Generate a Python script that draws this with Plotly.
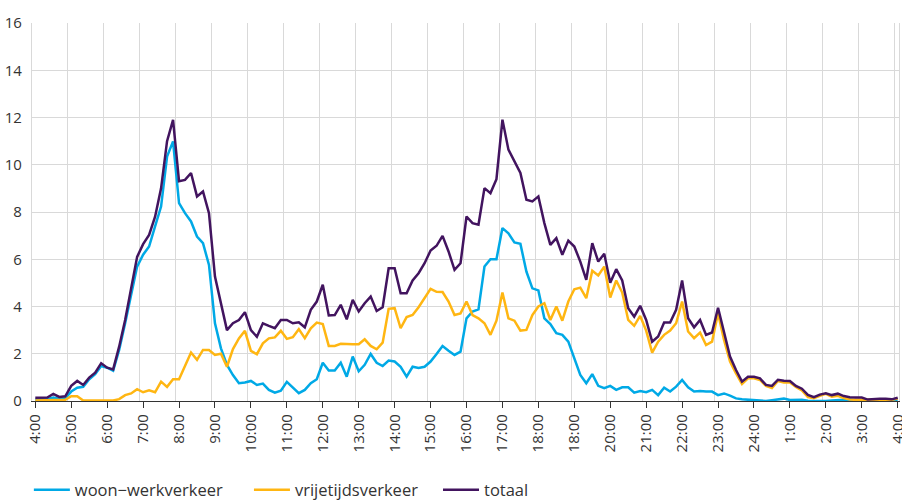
import plotly.graph_objects as go

# tijdas: elke 10 minuten van 4:00 tot 4:00 de volgende dag
UUR_LABELS = ["4:00", "5:00", "6:00", "7:00", "8:00", "9:00", "10:00", "11:00",
              "12:00", "13:00", "14:00", "15:00", "16:00", "17:00", "18:00",
              "18:00", "20:00", "21:00", "22:00", "23:00", "24:00", "1:00",
              "2:00", "3:00", "4:00"]

woon_werk = [
    0.05, 0.06, 0.08, 0.15, 0.10, 0.12, 0.40, 0.56, 0.60, 0.92,
    1.14, 1.48, 1.41, 1.28, 2.16, 3.29, 4.56, 5.69, 6.19, 6.54,
    7.39, 8.23, 10.35, 10.99, 8.38, 7.95, 7.60, 6.96, 6.68, 5.76,
    3.29, 2.23, 1.53, 1.10, 0.75, 0.78, 0.85, 0.68, 0.74, 0.47,
    0.35, 0.44, 0.81, 0.58, 0.33, 0.47, 0.75, 0.92, 1.62, 1.29,
    1.29, 1.62, 1.03, 1.88, 1.26, 1.53, 1.99, 1.62, 1.48, 1.71,
    1.67, 1.45, 1.03, 1.45, 1.40, 1.45, 1.67, 1.99, 2.33, 2.13,
    1.95, 2.09, 3.50, 3.79, 3.88, 5.69, 6.00, 6.00, 7.32, 7.10,
    6.71, 6.65, 5.48, 4.77, 4.68, 3.50, 3.26, 2.87, 2.80, 2.51,
    1.77, 1.10, 0.75, 1.14, 0.64, 0.54, 0.64, 0.47, 0.58, 0.58,
    0.35, 0.42, 0.37, 0.47, 0.25, 0.56, 0.40, 0.61, 0.89, 0.58,
    0.40, 0.42, 0.40, 0.40, 0.25, 0.32, 0.23, 0.11, 0.07, 0.05,
    0.03, 0.02, 0.00, 0.03, 0.05, 0.10, 0.04, 0.05, 0.05, 0.01,
    0.00, 0.00, 0.00, 0.02, 0.05, 0.05, 0.06, 0.01, 0.00, 0.00,
    0.02, 0.03, 0.02, 0.00, 0.02,
]

vrije_tijd = [
    0.02, 0.02, 0.05, 0.05, 0.05, 0.05, 0.20, 0.20, 0.02, 0.02,
    0.02, 0.02, 0.00, 0.02, 0.08, 0.25, 0.32, 0.50, 0.37, 0.45,
    0.37, 0.82, 0.60, 0.92, 0.92, 1.45, 2.05, 1.74, 2.16, 2.16,
    1.95, 2.00, 1.45, 2.20, 2.65, 2.97, 2.12, 1.98, 2.44, 2.65,
    2.69, 2.97, 2.63, 2.70, 3.04, 2.66, 3.08, 3.32, 3.26, 2.33,
    2.33, 2.42, 2.40, 2.40, 2.40, 2.61, 2.33, 2.19, 2.47, 3.90,
    3.93, 3.08, 3.55, 3.64, 3.97, 4.35, 4.75, 4.62, 4.61, 4.21,
    3.64, 3.71, 4.21, 3.64, 3.50, 3.29, 2.80, 3.40, 4.59, 3.50,
    3.40, 2.98, 3.01, 3.64, 4.00, 4.14, 3.43, 4.00, 3.40, 4.21,
    4.73, 4.80, 4.35, 5.51, 5.31, 5.69, 4.38, 5.10, 4.59, 3.43,
    3.18, 3.60, 2.98, 2.05, 2.51, 2.80, 2.98, 3.29, 4.21, 2.94,
    2.66, 2.90, 2.37, 2.51, 3.71, 2.58, 1.67, 1.17, 0.72, 0.96,
    0.96, 0.89, 0.64, 0.55, 0.85, 0.78, 0.78, 0.60, 0.45, 0.17,
    0.12, 0.22, 0.30, 0.18, 0.22, 0.12, 0.06, 0.05, 0.05, 0.02,
    0.05, 0.05, 0.05, 0.05, 0.10,
]

totaal = [
    0.14, 0.14, 0.15, 0.30, 0.17, 0.20, 0.64, 0.85, 0.68, 0.99,
    1.20, 1.60, 1.41, 1.34, 2.30, 3.43, 4.70, 6.10, 6.64, 7.03,
    7.80, 9.00, 11.00, 11.90, 9.30, 9.36, 9.65, 8.66, 8.87, 7.95,
    5.27, 4.20, 3.00, 3.29, 3.43, 3.76, 3.00, 2.72, 3.29, 3.18,
    3.08, 3.43, 3.43, 3.29, 3.33, 3.12, 3.86, 4.21, 4.92, 3.62,
    3.64, 4.07, 3.46, 4.28, 3.79, 4.14, 4.42, 3.81, 3.97, 5.62,
    5.62, 4.56, 4.56, 5.10, 5.41, 5.83, 6.37, 6.57, 6.99, 6.33,
    5.55, 5.83, 7.81, 7.53, 7.46, 9.01, 8.80, 9.39, 11.91, 10.64,
    10.14, 9.65, 8.52, 8.45, 8.66, 7.53, 6.61, 6.89, 6.19, 6.79,
    6.54, 5.90, 5.13, 6.68, 5.90, 6.23, 5.01, 5.58, 5.10, 3.93,
    3.57, 4.03, 3.43, 2.51, 2.73, 3.32, 3.32, 3.86, 5.10, 3.50,
    3.12, 3.43, 2.80, 2.90, 3.95, 2.87, 1.88, 1.31, 0.82, 1.03,
    1.03, 0.96, 0.68, 0.64, 0.90, 0.86, 0.85, 0.64, 0.52, 0.26,
    0.16, 0.27, 0.33, 0.25, 0.31, 0.21, 0.16, 0.15, 0.15, 0.06,
    0.09, 0.09, 0.09, 0.07, 0.14,
]

COR_WW = "#00a9e6"
COR_VT = "#ffb612"
COR_TOT = "#42145f"
GRID = "#d9d9d9"
TEKST = "#333333"
FONT = "Open Sans"

uren = [i / 6 for i in range(len(totaal))]

fig = go.Figure()
# elke reeks een eigen legenda (container-coördinaten), zodat de plaats
# vastligt en de plotmarges niet opschuiven
series = [
    ("woon−werkverkeer", woon_werk, COR_WW, "legend", 0.032),
    ("vrijetijdsverkeer", vrije_tijd, COR_VT, "legend2", 0.276),
    ("totaal", totaal, COR_TOT, "legend3", 0.4856),
]
for naam, waarden, kleur, leg, _ in series:
    fig.add_scatter(
        x=uren, y=waarden, name=naam, mode="lines", legend=leg,
        line=dict(color=kleur, width=2.5),
        hovertemplate=f"{naam}: %{{y:.1f}}<extra></extra>",
    )

fig.update_xaxes(
    range=[-0.092, 24.036], automargin=False,
    tickmode="array", tickvals=list(range(len(UUR_LABELS))), ticktext=UUR_LABELS,
    tickangle=-90, ticks="outside", ticklen=6, tickwidth=1.3, tickcolor=TEKST,
    tickfont=dict(size=15, color=TEKST, family=FONT), ticklabeloverflow="allow",
    showline=True, linecolor=TEKST, linewidth=1.3,
    showgrid=False, zeroline=False,
    minor=dict(tick0=-0.092, dtick=1, showgrid=True, gridcolor=GRID,
               gridwidth=1.3, ticks=""),
)
fig.update_yaxes(
    range=[0, 16], dtick=2, showgrid=True, gridcolor=GRID, gridwidth=1.3,
    zeroline=False, showline=True, linecolor=GRID, linewidth=1.3, mirror=True,
    ticks="", ticklabelstandoff=6, automargin=False,
    tickfont=dict(size=15, color=TEKST, family=FONT),
)

legenda = dict(orientation="h", xref="container", yref="container",
               xanchor="left", y=0.022, yanchor="middle", itemwidth=36,
               bgcolor="rgba(0,0,0,0)",
               font=dict(size=16.5, color=TEKST, family=FONT))
fig.update_layout(
    width=902, height=501,
    margin=dict(l=32, r=3, t=23, b=100, autoexpand=False),
    plot_bgcolor="white", paper_bgcolor="white",
    font=dict(family=FONT, color=TEKST),
    showlegend=True,
    legend=dict(legenda, x=series[0][4]),
    legend2=dict(legenda, x=series[1][4]),
    legend3=dict(legenda, x=series[2][4]),
)

# standaard body-marge van de browser weghalen, anders schuift alles 8px op
fig.write_html("out.html", config={"displayModeBar": False},
               post_script="document.body.style.margin='0px';")
